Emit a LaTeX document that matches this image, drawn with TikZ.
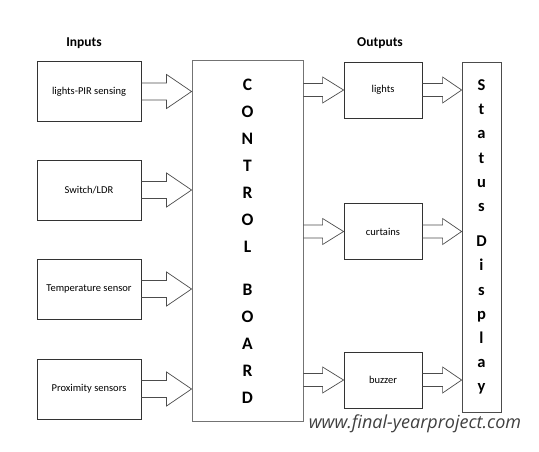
\documentclass[tikz,border=0pt]{standalone}
\usepackage{fontspec}
\setmainfont{Carlito}
\newfontfamily\sitefont{Open Sans}
\usetikzlibrary{calc}
\usepackage{xcolor}

% block arrow: start point, end point, half shaft width, head length
\newcommand{\fatarrow}[4]{\draw[blockarrow] let \p1=#1, \p2=#2 in
	(\x1,\y1+#3) -- (\x2-#4,\y1+#3) -- (\x2-#4,\y1+2*#3) -- (\x2,\y1)
	-- (\x2-#4,\y1-2*#3) -- (\x2-#4,\y1-#3) -- (\x1,\y1-#3);}

\begin{document}
\begin{tikzpicture}[x=1pt, y=-1pt,
	inbox/.style={draw=black!80, line width=0.8pt, minimum width=104pt, minimum height=60pt, inner sep=0pt, font=\fontsize{10.5}{12}\selectfont},
	outbox/.style={draw=black!80, line width=0.8pt, minimum width=78pt, minimum height=56pt, inner sep=0pt, font=\fontsize{10.5}{12}\selectfont},
	blockarrow/.style={draw=black!70, line width=0.7pt, line join=miter}]
	\useasboundingbox (0,0) rectangle (539,451);
	\node (intitle) at (84,43) {\bfseries\fontsize{13.5}{15}\selectfont Inputs};
	\node (outtitle) at (380,43) {\bfseries\fontsize{13.5}{15}\selectfont Outputs};
	\node (in1) [inbox] at (89,91.5) {lights-PIR sensing};
	\node (in2) [inbox] at (89,190) {Switch/LDR};
	\node (in3) [inbox] at (89,289) {Temperature sensor};
	\node (in4) [inbox] at (89,389) {Proximity sensors};
	\node (board) [draw=black!55, line width=0.9pt, minimum width=111pt, minimum height=361pt, align=center, font=\bfseries\fontsize{17.5}{27}\selectfont] at (247.5,241) {C\\O\\N\\T\\R\\O\\L\\[16pt]B\\O\\A\\R\\D};
	\node (out1) [outbox] at (383,90) {lights};
	\node (out2) [outbox] at (383,231.5) {curtains};
	\node (out3) [outbox] at (383,380) {buzzer};
	\node (status) [draw=black!70, line width=0.8pt, minimum width=39pt, minimum height=350pt, inner sep=0pt, align=center, font=\bfseries\fontsize{16.5}{24.2}\selectfont] at (481.5,237) {S\\t\\a\\t\\u\\s\\[11pt]D\\i\\s\\p\\l\\a\\y};
	\fatarrow{(in1.east)}{(board.west |- in1.east)}{8.5pt}{25pt}
	\fatarrow{(in2.east)}{(board.west |- in2.east)}{8.5pt}{25pt}
	\fatarrow{(in3.east)}{(board.west |- in3.east)}{8.5pt}{25pt}
	\fatarrow{(in4.east)}{(board.west |- in4.east)}{8.5pt}{25pt}
	\fatarrow{(board.east |- out1.west)}{(out1.west)}{6.5pt}{21pt}
	\fatarrow{(board.east |- out2.west)}{(out2.west)}{6.5pt}{21pt}
	\fatarrow{(board.east |- out3.west)}{(out3.west)}{6.5pt}{21pt}
	\fatarrow{(out1.east)}{(status.west |- out1.east)}{6.5pt}{19pt}
	\fatarrow{(out2.east)}{(status.west |- out2.east)}{6.5pt}{19pt}
	\fatarrow{(out3.east)}{(status.west |- out3.east)}{6.5pt}{19pt}
	\node (site) [text=black!75] at (415,424) {\sitefont\itshape\fontsize{18}{20}\selectfont www.final-yearproject.com};
\end{tikzpicture}
\end{document}
